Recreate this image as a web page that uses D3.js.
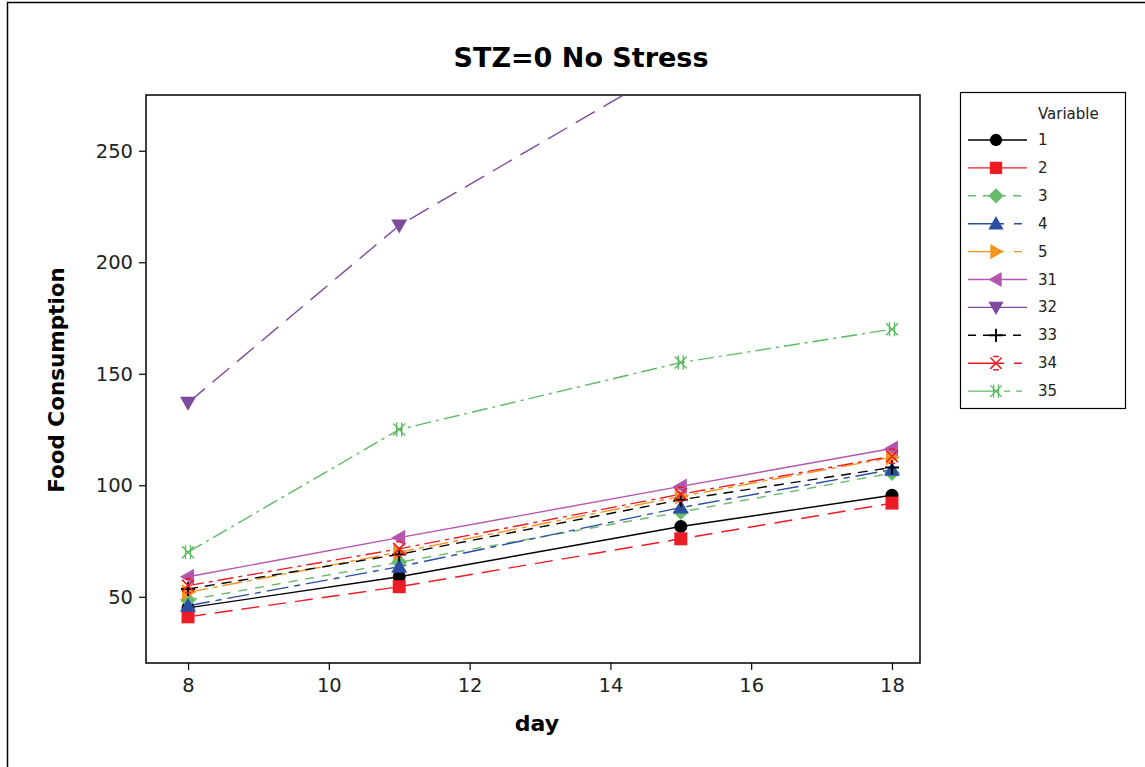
<!DOCTYPE html>
<html>
<head>
<meta charset="utf-8">
<script src="https://cdn.jsdelivr.net/npm/d3@7"></script>
<style>
  html, body { margin: 0; padding: 0; background: #fff; }
  svg { display: block; }
  text { font-family: "DejaVu Sans", Tahoma, sans-serif; }
</style>
</head>
<body>
<svg id="chart" width="1145" height="767"></svg>
<script>
// Food consumption by day for each animal (STZ=0, no stress)
const days = [8, 11, 15, 18];
const variables = ["1", "2", "3", "4", "5", "31", "32", "33", "34", "35"];
const s1  = [45, 59, 81.5, 95.5];
const s2  = [41, 54.5, 76, 92];
const s3  = [48.5, 65.5, 88, 105.5];
const s4  = [46, 63.5, 90, 107];
const s5  = [52, 70, 95, 112.5];
const s31 = [59, 76.5, 99.5, 116.5];
const s32 = [137, 216.5, 290, 326];
const s33 = [53.5, 69, 93.5, 108];
const s34 = [55, 71.5, 96, 113];
const s35 = [70, 125, 155, 170];
const xTicks = [8, 10, 12, 14, 16, 18];
const yTicks = [50, 100, 150, 200, 250];

const seriesValues = [s1, s2, s3, s4, s5, s31, s32, s33, s34, s35];
const colors = ["#000000", "#ed1c24", "#66bb6a", "#2b4ea2", "#f7941d",
                "#b455b0", "#7e4a9e", "#000000", "#ed1c24", "#5dbb63"];
const symbols = ["circle", "square", "diamond", "triUp", "triRight",
                 "triLeft", "triDown", "plus", "star", "asterisk"];
const dashes = [null, "18,9", "9,8", "22,6,6,6", "20,5,5,5",
                null, "22,10", "10,7", "16,5,4,5", "16,5,3,5"];
// short legend swatch patterns
const legendDashes = [null, null, "8,7", "36,10,8,20", "36,10,8,20",
                      null, null, "8,7", "36,10,8,20", "30,6,6,6,6,20"];

const svg = d3.select("#chart");

// outer frame
svg.append("rect").attr("x", 7.5).attr("y", 2.5).attr("width", 1200).attr("height", 800)
  .attr("fill", "none").attr("stroke", "#000").attr("stroke-width", 1.5);

const plot = { left: 146, right: 920, top: 95, bottom: 663 };
const x = d3.scaleLinear().domain([7.403, 18.398]).range([plot.left, plot.right]);
const y = d3.scaleLinear().domain([20.3, 275]).range([plot.bottom, plot.top]);

// title
svg.append("text").attr("x", 581).attr("y", 67).attr("text-anchor", "middle")
  .attr("font-size", 27).attr("font-weight", "bold").text("STZ=0 No Stress");

// clip path for the data region
svg.append("defs").append("clipPath").attr("id", "clip")
  .append("rect").attr("x", plot.left).attr("y", plot.top)
  .attr("width", plot.right - plot.left).attr("height", plot.bottom - plot.top);

// plot box
svg.append("rect").attr("x", plot.left).attr("y", plot.top)
  .attr("width", plot.right - plot.left).attr("height", plot.bottom - plot.top)
  .attr("fill", "#fff").attr("stroke", "#000").attr("stroke-width", 1.5);

// axes
const xAxis = svg.append("g").attr("transform", `translate(0,${plot.bottom})`)
  .call(d3.axisBottom(x).tickValues(xTicks).tickSize(7).tickPadding(8));
const yAxis = svg.append("g").attr("transform", `translate(${plot.left},0)`)
  .call(d3.axisLeft(y).tickValues(yTicks).tickSize(7).tickPadding(6));
[xAxis, yAxis].forEach(g => {
  g.select(".domain").remove();
  g.selectAll(".tick line").attr("stroke", "#000").attr("stroke-width", 1.2);
  g.selectAll(".tick text").attr("font-size", 19.5).attr("fill", "#222")
    .attr("font-family", "'DejaVu Sans Condensed', 'DejaVu Sans', sans-serif");
});

// axis titles
svg.append("text").attr("x", 537).attr("y", 731).attr("text-anchor", "middle")
  .attr("font-size", 22).attr("font-weight", "bold").text("day");
svg.append("text").attr("transform", "translate(64,380) rotate(-90)")
  .attr("text-anchor", "middle").attr("font-size", 21.5).attr("font-weight", "bold")
  .text("Food Consumption");

// marker drawing
function drawMarker(g, type, color, cx, cy, scale) {
  const s = scale || 1;
  const m = g.append("g").attr("transform", `translate(${cx},${cy}) scale(${s})`);
  switch (type) {
    case "circle":
      m.append("circle").attr("r", 6.5).attr("fill", color); break;
    case "square":
      m.append("rect").attr("x", -6.5).attr("y", -6.5).attr("width", 13).attr("height", 13).attr("fill", color); break;
    case "diamond":
      m.append("path").attr("d", "M0,-8L8,0L0,8L-8,0Z").attr("fill", color); break;
    case "triUp":
      m.append("path").attr("d", "M0,-8L8,6L-8,6Z").attr("fill", color); break;
    case "triDown":
      m.append("path").attr("d", "M0,8L8,-6L-8,-6Z").attr("fill", color); break;
    case "triRight":
      m.append("path").attr("d", "M8,0L-6,-8L-6,8Z").attr("fill", color); break;
    case "triLeft":
      m.append("path").attr("d", "M-8,0L6,-8L6,8Z").attr("fill", color); break;
    case "plus":
      m.append("path").attr("d", "M-7,0H7M0,-7V7").attr("stroke", color).attr("stroke-width", 2).attr("fill", "none"); break;
    case "star":
      m.append("path").attr("d", "M-6,-6L6,6M-6,6L6,-6M-3,-7H3M-3,7H3")
        .attr("stroke", color).attr("stroke-width", 1.6).attr("fill", "none"); break;
    case "asterisk":
      m.append("path").attr("d", "M-6,-6L6,6M-6,6L6,-6M-2.5,-7V7M2.5,-7V7")
        .attr("stroke", color).attr("stroke-width", 1.4).attr("fill", "none"); break;
  }
}

const line = d3.line().x((d, i) => x(days[i])).y(d => y(d));
const dataLayer = svg.append("g").attr("clip-path", "url(#clip)");

// series lines, drawn in legend order
seriesValues.forEach((vals, k) => {
  dataLayer.append("path").datum(vals).attr("d", line)
    .attr("fill", "none").attr("stroke", colors[k]).attr("stroke-width", 1.4)
    .attr("stroke-dasharray", dashes[k]);
});
// markers on top
seriesValues.forEach((vals, k) => {
  vals.forEach((v, i) => {
    if (y(v) >= plot.top && y(v) <= plot.bottom) {
      drawMarker(dataLayer, symbols[k], colors[k], x(days[i]), y(v));
    }
  });
});

// legend
const lg = svg.append("g");
lg.append("rect").attr("x", 960.5).attr("y", 92.5).attr("width", 165).attr("height", 316)
  .attr("fill", "#fff").attr("stroke", "#000").attr("stroke-width", 1.2);
lg.append("text").attr("x", 1038).attr("y", 119).attr("font-size", 15).attr("fill", "#222")
  .attr("font-family", "'DejaVu Sans Condensed', 'DejaVu Sans', sans-serif").text("Variable");
variables.forEach((name, k) => {
  const ly = 140 + k * 27.9;
  lg.append("line").attr("x1", 968).attr("x2", 1027).attr("y1", ly).attr("y2", ly)
    .attr("stroke", colors[k]).attr("stroke-width", 1.4)
    .attr("stroke-dasharray", legendDashes[k]);
  drawMarker(lg, symbols[k], colors[k], 996, ly, 0.95);
  lg.append("text").attr("x", 1038).attr("y", ly + 5).attr("font-size", 15).attr("fill", "#222")
    .attr("font-family", "'DejaVu Sans Condensed', 'DejaVu Sans', sans-serif").text(name);
});
</script>
</body>
</html>
